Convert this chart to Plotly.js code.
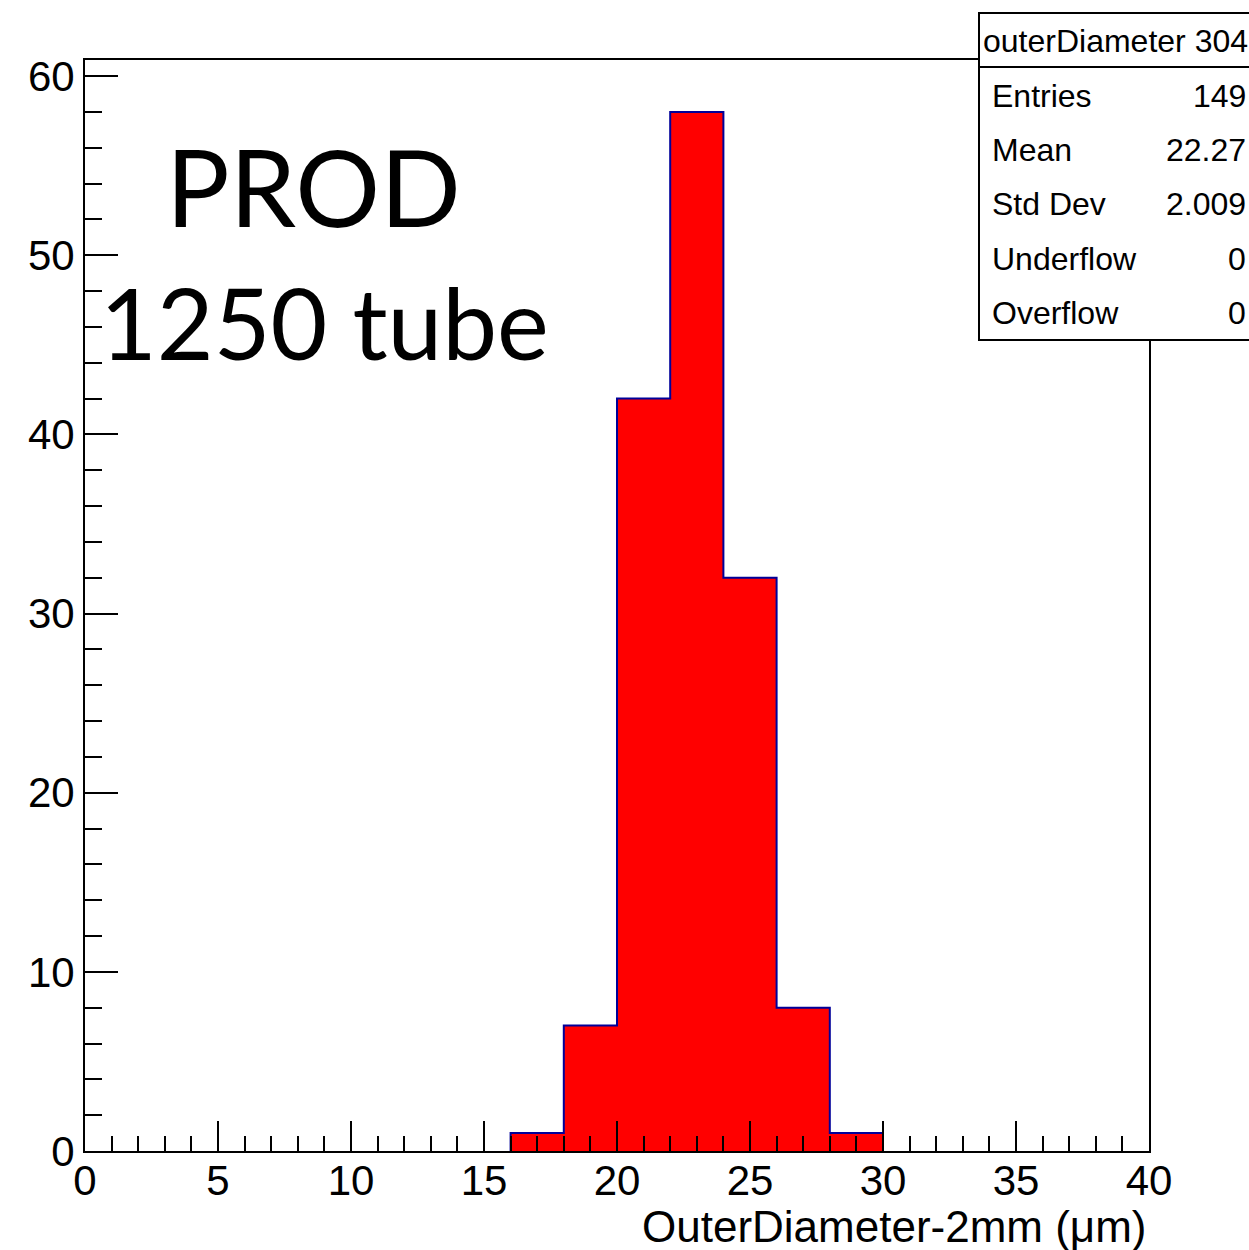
<!DOCTYPE html>
<html>
<head>
<meta charset="utf-8">
<script src="https://cdn.plot.ly/plotly-3.0.1.min.js"></script>
<style>
  html, body { margin: 0; padding: 0; background: #ffffff; }
  #chart { width: 1249px; height: 1250px; }
</style>
</head>
<body>
<div id="chart"></div>
<script>
// Histogram of tube outer diameter minus 2 mm, in micrometres (2 um bins)
const binLowEdges = [16, 18, 20, 22, 24, 26, 28];
const binWidth = 2;
const counts = [1, 7, 42, 58, 32, 8, 1];

// Statistics box contents
const statsTitle = "outerDiameter 304";
const statsLabels = ["Entries", "Mean", "Std Dev", "Underflow", "Overflow"];
const statsValues = ["149", "22.27", "2.009", "0", "0"];

// Axis labels and overlay text
const xTitle = "OuterDiameter-2mm (\u03bcm)";
const tagLine1 = "PROD";
const tagLine2 = "1250 tube";

// Page geometry (pixels)
const W = 1249, H = 1250;
const M = { l: 85, r: 100, t: 60, b: 99 };
const plotW = W - M.l - M.r;
const plotH = H - M.t - M.b;
const px2x = px => (px - M.l) / plotW;
const px2y = py => (H - M.b - py) / plotH;

// Step outline of the histogram built from the bins
const stepX = [binLowEdges[0]];
const stepY = [0];
binLowEdges.forEach((e, i) => { stepX.push(e); stepY.push(counts[i]); });
stepX.push(binLowEdges[binLowEdges.length - 1] + binWidth);
stepY.push(0);

const histTrace = {
  type: "scatter",
  mode: "lines",
  x: stepX,
  y: stepY,
  line: { shape: "hv", color: "#000099", width: 2 },
  fill: "tozeroy",
  fillcolor: "#ff0000",
  hoverinfo: "skip",
  showlegend: false
};

const tickFont = { family: "Liberation Sans, Arial, sans-serif", size: 42, color: "#000000" };
const statFont = { family: "Liberation Sans, Arial, sans-serif", size: 32, color: "#000000" };
const tagFont1 = { family: "Lato, Open Sans, sans-serif", size: 106, color: "#000000" };
const tagFont2 = { family: "Lato, Open Sans, sans-serif", size: 98, color: "#000000" };

const annotations = [
  { text: tagLine1, x: px2x(164), y: px2y(186), xanchor: "left", yanchor: "middle", font: tagFont1 },
  { text: tagLine2, x: px2x(98), y: px2y(322), xanchor: "left", yanchor: "middle", font: tagFont2 },
  { text: xTitle, x: 1, y: px2y(1226), xanchor: "right", yanchor: "middle",
    font: { family: "Liberation Sans, Arial, sans-serif", size: 44, color: "#000000" } },
  { text: statsTitle, x: px2x(981), y: px2y(41), xanchor: "left", yanchor: "middle", font: statFont }
];

const rowY = [96, 150, 204, 259, 313];
statsLabels.forEach((lab, i) => {
  annotations.push({ text: lab, x: px2x(990), y: px2y(rowY[i]), xanchor: "left", yanchor: "middle", font: statFont });
  annotations.push({ text: statsValues[i], x: px2x(1248), y: px2y(rowY[i]), xanchor: "right", yanchor: "middle", font: statFont });
});
annotations.forEach(a => { a.xref = "paper"; a.yref = "paper"; a.showarrow = false; });

const shapes = [
  { type: "rect", xref: "paper", yref: "paper", layer: "above",
    x0: px2x(979), x1: px2x(1270), y0: px2y(340), y1: px2y(13),
    line: { color: "#000000", width: 2 }, fillcolor: "#ffffff" },
  { type: "line", xref: "paper", yref: "paper", layer: "above",
    x0: px2x(979), x1: px2x(1270), y0: px2y(67), y1: px2y(67),
    line: { color: "#000000", width: 2 } }
];

const layout = {
  width: W,
  height: H,
  margin: M,
  paper_bgcolor: "#ffffff",
  plot_bgcolor: "#ffffff",
  showlegend: false,
  xaxis: {
    range: [0, 40],
    dtick: 5,
    tick0: 0,
    ticks: "inside",
    ticklen: 30,
    tickwidth: 2,
    tickcolor: "#000000",
    ticklabelstandoff: -8,
    minor: { dtick: 1, ticks: "inside", ticklen: 15, tickwidth: 2, tickcolor: "#000000" },
    showline: true,
    linecolor: "#000000",
    linewidth: 2,
    mirror: true,
    showgrid: false,
    zeroline: false,
    tickfont: tickFont,
    fixedrange: true
  },
  yaxis: {
    range: [0, 60.9],
    dtick: 10,
    tick0: 0,
    ticks: "inside",
    ticklen: 33,
    tickwidth: 2,
    tickcolor: "#000000",
    minor: { dtick: 2, ticks: "inside", ticklen: 17, tickwidth: 2, tickcolor: "#000000" },
    showline: true,
    linecolor: "#000000",
    linewidth: 2,
    mirror: true,
    showgrid: false,
    zeroline: false,
    tickfont: tickFont,
    fixedrange: true
  },
  annotations: annotations,
  shapes: shapes
};

Plotly.newPlot("chart", [histTrace], layout, { displayModeBar: false, staticPlot: true });
</script>
</body>
</html>
